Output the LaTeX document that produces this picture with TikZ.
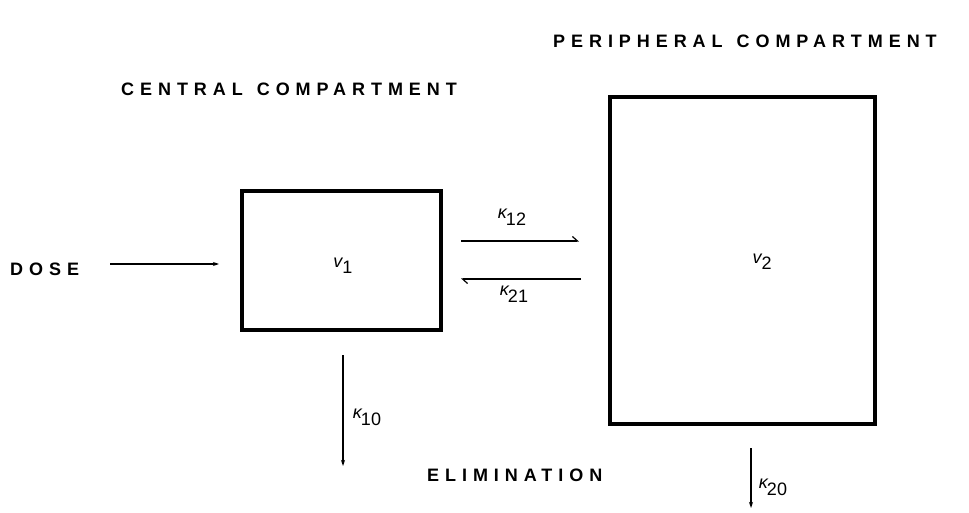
\documentclass[tikz,border=0pt]{standalone}
\usepackage{fontspec}
\setmainfont{Liberation Sans}
\usetikzlibrary{arrows.meta}
\newfontfamily\spaced[LetterSpace=33]{Liberation Sans Bold}
\newcommand{\kap}[1]{{\itshape κ}\kern-1pt\raisebox{-7pt}{#1}}
\newcommand{\vol}[1]{{\itshape v}\raisebox{-6pt}{#1}}
\newcommand{\wg}{\hspace{14pt}}
\begin{document}
\begin{tikzpicture}[x=1pt,y=-1pt,
  comp/.style={draw,line width=3.5pt},
  ttl/.style={font=\spaced\fontsize{18}{21}\selectfont,anchor=base west,inner sep=0pt},
  lbl/.style={font=\fontsize{18}{21}\selectfont,inner sep=0pt},
  flow/.style={line width=1.2pt,-{Stealth[length=6pt,width=4pt]}},
  harp/.style={line width=1.2pt,-{Straight Barb[left,length=5pt,width=9pt]}}]
\useasboundingbox (0,0) rectangle (969,513);
\draw[comp] (242,191) rectangle (441,330);
\draw[comp] (610,97) rectangle (875,424);
\node[lbl] (v1) at (343,266) {\vol{1}};
\node[lbl] (v2) at (762,262) {\vol{2}};
\node[ttl] (pc) at (553,48) {PERIPHERAL\wg COMPARTMENT};
\node[ttl] (cc) at (121,96) {CENTRAL\wg COMPARTMENT};
\node[ttl] (dose) at (10,275) {DOSE};
\node[ttl] (elim) at (427,481) {ELIMINATION};
\coordinate (d1) at (110,264);
\coordinate (d2) at (219,264);
\draw[flow] (d1) -- (d2);
\coordinate (a1) at (461,241);
\coordinate (a2) at (579,241);
\draw[harp] (a1) -- (a2);
\coordinate (b1) at (581,279);
\coordinate (b2) at (461,279);
\draw[harp] (b1) -- (b2);
\node[lbl] (k12) at (512,217) {\kap{12}};
\node[lbl] (k21) at (514,294) {\kap{21}};
\coordinate (e1) at (343,355);
\coordinate (e2) at (343,466);
\draw[flow] (e1) -- (e2);
\node[lbl] (k10) at (367,417) {\kap{10}};
\coordinate (f1) at (751,448);
\coordinate (f2) at (751,508);
\draw[flow] (f1) -- (f2);
\node[lbl] (k20) at (773,487) {\kap{20}};
\end{tikzpicture}
\end{document}
